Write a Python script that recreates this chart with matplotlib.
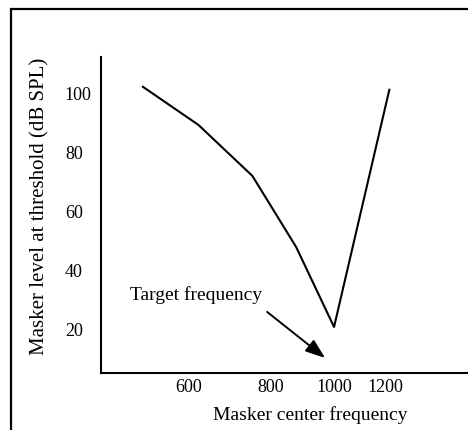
import matplotlib
matplotlib.use("Agg")
import matplotlib.pyplot as plt
from matplotlib.patches import Rectangle

plt.rcParams['font.family'] = ['Liberation Serif', 'DejaVu Serif']

# masker center frequency (Hz) and masker level at threshold (dB SPL)
freq = [510, 620, 750, 875, 1000, 1215]
level = [102.4, 89.5, 72.2, 48.1, 21.0, 101.4]

xticks = [600, 800, 1000, 1200]
yticks = [20, 40, 60, 80, 100]

fig = plt.figure(figsize=(4.68, 4.30), dpi=100)

# outer frame around the figure
fig.patches.append(Rectangle((11 / 468, -0.2), 1.2, 1.2 - 9 / 430,
                             transform=fig.transFigure, fill=False,
                             edgecolor='black', linewidth=1.6))

ax = fig.add_axes([101 / 468, 1 - 373 / 430, 1 - 101 / 468, (373 - 57) / 430])
ax.plot(freq, level, color='black', linewidth=1.5)

ax.set_xscale('log')
ax.set_xlim(440, 1603)
ax.set_ylim(5.4, 112.5)

ax.set_xticks(xticks)
ax.set_xticklabels([str(t) for t in xticks])
ax.xaxis.set_minor_locator(matplotlib.ticker.FixedLocator([1000]))
ax.xaxis.set_minor_formatter(matplotlib.ticker.NullFormatter())
ax.tick_params(axis='x', which='major', length=0, pad=4, labelsize=13)
ax.tick_params(axis='x', which='minor', direction='in', length=7, width=1)
ax.set_yticks(yticks)
ax.tick_params(axis='y', length=0, pad=26, labelsize=13)
for lab in ax.get_yticklabels():
    lab.set_horizontalalignment('left')

for s in ['top', 'right']:
    ax.spines[s].set_visible(False)
for s in ['left', 'bottom']:
    ax.spines[s].set_linewidth(1.5)

ax.set_xlabel('Masker center frequency', fontsize=14)
ax.xaxis.label.set_va('center')
ax.xaxis.set_label_coords(209 / 367, -42 / 316)
ax.set_ylabel('Masker level at threshold (dB SPL)', fontsize=15)
ax.yaxis.label.set_va('center')
ax.yaxis.set_label_coords(-61 / 367, 167 / 316)

ax.text(488, 31.9, 'Target frequency', fontsize=14, ha='left', va='center')
ax.annotate('', xy=(969, 10.5), xytext=(790, 26.1),
            arrowprops=dict(arrowstyle='-|>,head_length=0.6,head_width=0.22',
                            mutation_scale=20, lw=1.4,
                            color='black', shrinkA=0, shrinkB=0))

fig.savefig('out.png', dpi=100)
